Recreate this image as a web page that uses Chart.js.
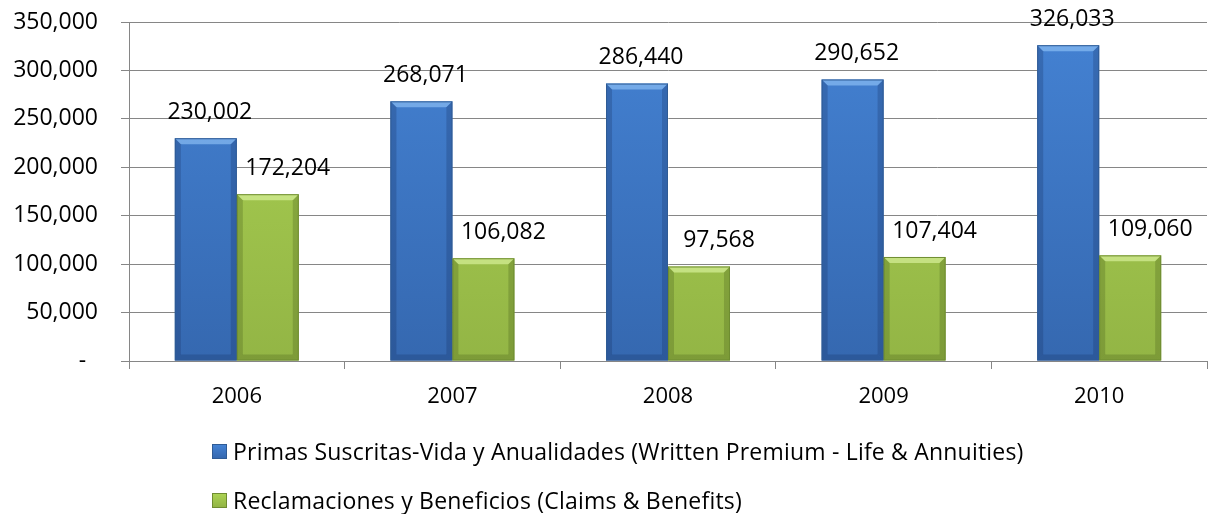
<!DOCTYPE html>
<html>
<head>
<meta charset="utf-8">
<script src="https://cdn.jsdelivr.net/npm/chart.js@4/dist/chart.umd.min.js"></script>
<style>
    html, body { margin: 0; padding: 0; background: #ffffff; }
    #wrap { position: relative; width: 1209px; height: 514px; }
    #legend { position: absolute; left: 212px; top: 436px; font-family: 'Open Sans', sans-serif; font-size: 23px; letter-spacing: 0.2px; color: #000; }
    .item { display: flex; align-items: center; height: 30px; margin-bottom: 19px; white-space: nowrap; }
    .swatch { width: 15px; height: 15px; margin-right: 6px; box-sizing: border-box; }
</style>
</head>
<body>
<div id="wrap">
    <canvas id="chart"></canvas>
    <div id="legend"></div>
</div>
<script>
    // Data
    const years = ['2006', '2007', '2008', '2009', '2010'];
    const seriesNames = [
        'Primas Suscritas-Vida y Anualidades (Written Premium - Life & Annuities)',
        'Reclamaciones y Beneficios (Claims & Benefits)'
    ];
    const premiums = [230002, 268071, 286440, 290652, 326033];
    const claims = [172204, 106082, 97568, 107404, 109060];
    const yTicks = [0, 50000, 100000, 150000, 200000, 250000, 300000, 350000];

    const FONT = "'Open Sans', sans-serif";
    const GRID = '#868686';

    // colours for the bevelled bars
    const styles = [
        { top: '#4482d3', bottom: '#3568b0', light: 'rgba(150,200,250,0.6)', dark: 'rgba(20,45,90,0.25)', border: '#2f5b95' },
        { top: '#abd253', bottom: '#93b545', light: 'rgba(220,245,160,0.65)', dark: 'rgba(60,80,20,0.25)', border: '#6f8c31' }
    ];

    const fmt = v => v.toLocaleString('en-US');

    const barFill = (idx) => (context) => {
        const chart = context.chart;
        const area = chart.chartArea;
        if (!area) return styles[idx].top;
        const g = chart.ctx.createLinearGradient(0, area.top, 0, area.bottom);
        g.addColorStop(0, styles[idx].top);
        g.addColorStop(1, styles[idx].bottom);
        return g;
    };

    // bevel edges drawn over each bar
    const bevelPlugin = {
        id: 'bevel',
        afterDatasetsDraw(chart) {
            const ctx = chart.ctx;
            chart.data.datasets.forEach((ds, i) => {
                const st = styles[i];
                chart.getDatasetMeta(i).data.forEach(bar => {
                    const l = bar.x - bar.width / 2, r = bar.x + bar.width / 2;
                    const t = bar.y, b = bar.base, e = 6;
                    ctx.save();
                    ctx.fillStyle = st.light;
                    ctx.beginPath();
                    ctx.moveTo(l, t); ctx.lineTo(r, t); ctx.lineTo(r - e, t + e); ctx.lineTo(l + e, t + e);
                    ctx.closePath(); ctx.fill();
                    ctx.fillStyle = st.dark;
                    ctx.beginPath();
                    ctx.moveTo(l, t); ctx.lineTo(l + e, t + e); ctx.lineTo(l + e, b - e); ctx.lineTo(l, b);
                    ctx.closePath(); ctx.fill();
                    ctx.beginPath();
                    ctx.moveTo(r, t); ctx.lineTo(r - e, t + e); ctx.lineTo(r - e, b - e); ctx.lineTo(r, b);
                    ctx.closePath(); ctx.fill();
                    ctx.beginPath();
                    ctx.moveTo(l, b); ctx.lineTo(l + e, b - e); ctx.lineTo(r - e, b - e); ctx.lineTo(r, b);
                    ctx.closePath(); ctx.fill();
                    ctx.strokeStyle = st.border;
                    ctx.lineWidth = 1;
                    ctx.strokeRect(l + 0.5, t + 0.5, bar.width - 1, b - t - 1);
                    ctx.restore();
                });
            });
        }
    };

    // value labels above the bars
    const valueLabels = {
        id: 'valueLabels',
        afterDatasetsDraw(chart, args, opts) {
            const ctx = chart.ctx;
            ctx.save();
            ctx.font = opts.font;
            ctx.fillStyle = '#000';
            ctx.textAlign = 'center';
            ctx.textBaseline = 'middle';
            chart.data.datasets.forEach((ds, i) => {
                chart.getDatasetMeta(i).data.forEach((bar, j) => {
                    ctx.fillText(fmt(ds.data[j]), bar.x + opts.shift[i], bar.y - opts.lift);
                });
            });
            ctx.restore();
        }
    };

    const chart = new Chart(document.getElementById('chart'), {
        type: 'bar',
        data: {
            labels: years,
            datasets: [
                { label: seriesNames[0], data: premiums, backgroundColor: barFill(0), borderWidth: 0 },
                { label: seriesNames[1], data: claims, backgroundColor: barFill(1), borderWidth: 0 }
            ]
        },
        plugins: [bevelPlugin, valueLabels],
        options: {
            responsive: true,
            maintainAspectRatio: false,
            animation: false,
            layout: { padding: { top: 22, right: 2, left: 0, bottom: 93 } },
            datasets: { bar: { categoryPercentage: 0.575, barPercentage: 1.0 } },
            plugins: {
                legend: { display: false },
                tooltip: { enabled: false },
                valueLabels: { font: '23px ' + FONT, shift: [4, 20], lift: 26 }
            },
            scales: {
                x: {
                    afterFit: s => { s.height = 60; s.paddingLeft = 0; s.paddingRight = 0; },
                    grid: { display: true, drawOnChartArea: false, drawTicks: true, tickLength: 8, color: GRID, offset: true },
                    border: { display: true, color: GRID },
                    ticks: { color: '#000', font: { family: FONT, size: 22 }, padding: 15, maxRotation: 0 }
                },
                y: {
                    min: 0,
                    max: 350000,
                    afterFit: s => { s.width = 129; s.paddingTop = 0; s.paddingBottom = 0; },
                    afterBuildTicks: s => { s.ticks = yTicks.map(v => ({ value: v })); },
                    grid: { color: GRID, tickLength: 8, drawTicks: true },
                    border: { display: true, color: GRID },
                    ticks: {
                        color: '#000',
                        font: { family: FONT, size: 23 },
                        padding: 23,
                        callback: v => v === 0 ? '-  ' : fmt(v)
                    }
                }
            }
        }
    });

    // legend below the chart
    const legend = document.getElementById('legend');
    chart.data.datasets.forEach((ds, i) => {
        const item = document.createElement('div');
        item.className = 'item';
        item.innerHTML = `<span class="swatch" style="background: linear-gradient(${styles[i].top}, ${styles[i].bottom}); border: 1px solid ${styles[i].border};"></span><span>${ds.label.replace('&', '&amp;')}</span>`;
        legend.appendChild(item);
    });
</script>
</body>
</html>
